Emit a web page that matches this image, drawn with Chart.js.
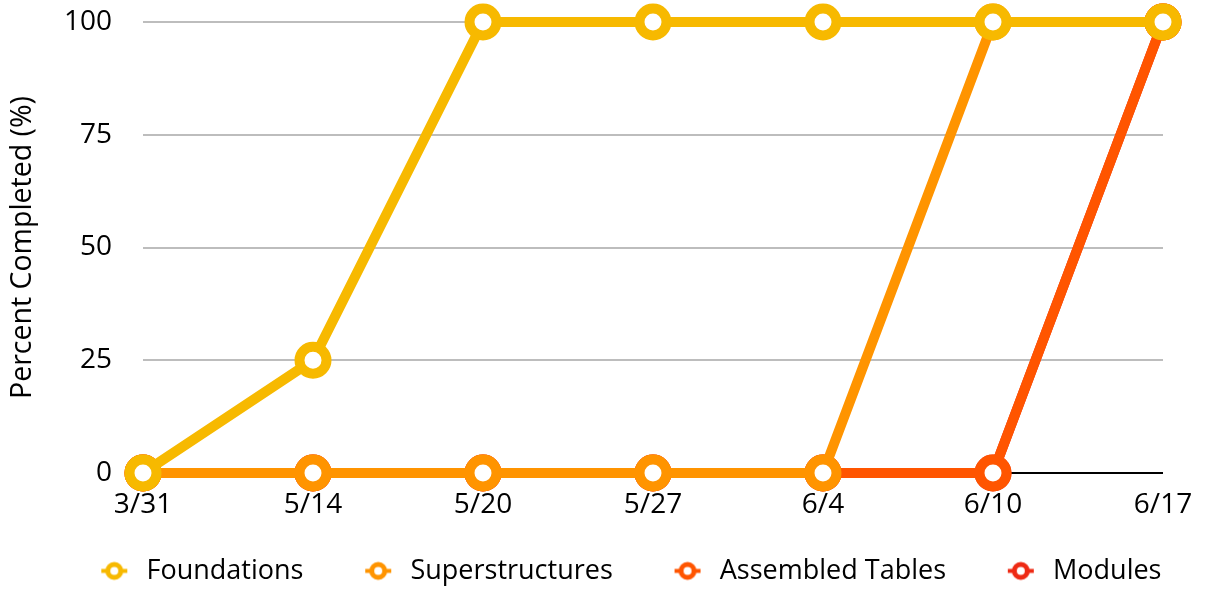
<!DOCTYPE html>
<html>
<head>
<meta charset="utf-8">
<script src="https://cdn.jsdelivr.net/npm/chart.js@4"></script>
<style>
  html, body { margin: 0; padding: 0; background: #fff; }
</style>
</head>
<body>
<canvas id="progress-chart" width="1207" height="592"></canvas>
<script>
  var dates = ['3/31', '5/14', '5/20', '5/27', '6/4', '6/10', '6/17'];
  var foundations = [0, 25, 100, 100, 100, 100, 100];
  var superstructures = [0, 0, 0, 0, 0, 100, 100];
  var assembledTables = [0, 0, 0, 0, 0, 0, 100];
  var modules = [0, 0, 0, 0, 0, 0, 100];
  var yTicks = [0, 25, 50, 75, 100];

  var colors = {
    foundations: '#f7b900',
    superstructures: '#ff9400',
    assembled: '#ff5500',
    modules: '#ee2a14'
  };

  function series(label, data, color) {
    return {
      label: label,
      data: data,
      borderColor: color,
      backgroundColor: color,
      borderWidth: 10,
      pointRadius: 13.5,
      pointHoverRadius: 13.5,
      pointBorderWidth: 10,
      pointBackgroundColor: '#fff',
      pointBorderColor: color,
      tension: 0,
      clip: false
    };
  }

  // legend swatch: small ring with line stubs, drawn right of centre
  // so the empty left part of the box works as spacing between items
  function legendMarker(color) {
    var c = document.createElement('canvas');
    c.width = 64;
    c.height = 27;
    var g = c.getContext('2d');
    var cx = 45, cy = 13.5;
    g.strokeStyle = color;
    g.lineWidth = 4;
    g.beginPath();
    g.moveTo(cx - 13, cy);
    g.lineTo(cx + 13, cy);
    g.stroke();
    g.lineWidth = 5;
    g.fillStyle = '#fff';
    g.beginPath();
    g.arc(cx, cy, 6.5, 0, Math.PI * 2);
    g.fill();
    g.stroke();
    return c;
  }

  var markers = [
    legendMarker(colors.foundations),
    legendMarker(colors.superstructures),
    legendMarker(colors.assembled),
    legendMarker(colors.modules)
  ];

  var legendShift = {
    id: 'legendShift',
    afterLayout: function (chart) {
      chart.legend.left += 33;
      chart.legend.right += 33;
    }
  };

  Chart.defaults.font.family = '"Open Sans", sans-serif';
  Chart.defaults.font.size = 27;
  Chart.defaults.color = '#000';

  var ctx = document.getElementById('progress-chart').getContext('2d');
  new Chart(ctx, {
    type: 'line',
    data: {
      labels: dates,
      datasets: [
        series('Foundations', foundations, colors.foundations),
        series('Superstructures', superstructures, colors.superstructures),
        series('Assembled Tables', assembledTables, colors.assembled),
        series('Modules', modules, colors.modules)
      ]
    },
    plugins: [legendShift],
    options: {
      responsive: false,
      animation: false,
      layout: {
        autoPadding: false,
        padding: { left: 2, right: 44, top: 22, bottom: 0 }
      },
      scales: {
        x: {
          grid: { display: false },
          border: { display: false },
          ticks: { padding: 7, maxRotation: 0, autoSkip: false, font: { size: 28 } },
          afterFit: function (scale) { scale.height = 54.4; }
        },
        y: {
          min: 0,
          max: 100,
          afterBuildTicks: function (scale) {
            scale.ticks = yTicks.map(function (v) { return { value: v }; });
          },
          grid: {
            drawTicks: false,
            lineWidth: 2,
            color: function (c) { return c.tick && c.tick.value === 0 ? '#000' : '#bdbdbd'; }
          },
          border: { display: false },
          ticks: { padding: 31, font: { size: 28 } },
          title: { display: true, text: 'Percent Completed (%)', font: { size: 28.5 } },
          afterFit: function (scale) {
            scale.width = 141;
            // the tick padding would otherwise push the plot top down
            scale.paddingTop = 0;
            scale.paddingBottom = 0;
          }
        }
      },
      plugins: {
        tooltip: { enabled: false },
        legend: {
          position: 'bottom',
          maxHeight: 64.6,
          labels: {
            usePointStyle: true,
            boxHeight: 27,
            pointStyleWidth: 63.5,
            padding: 30,
            generateLabels: function (chart) {
              var items = Chart.defaults.plugins.legend.labels.generateLabels(chart);
              items.forEach(function (it) { it.pointStyle = markers[it.datasetIndex]; });
              return items;
            }
          }
        }
      }
    }
  });
</script>
</body>
</html>
